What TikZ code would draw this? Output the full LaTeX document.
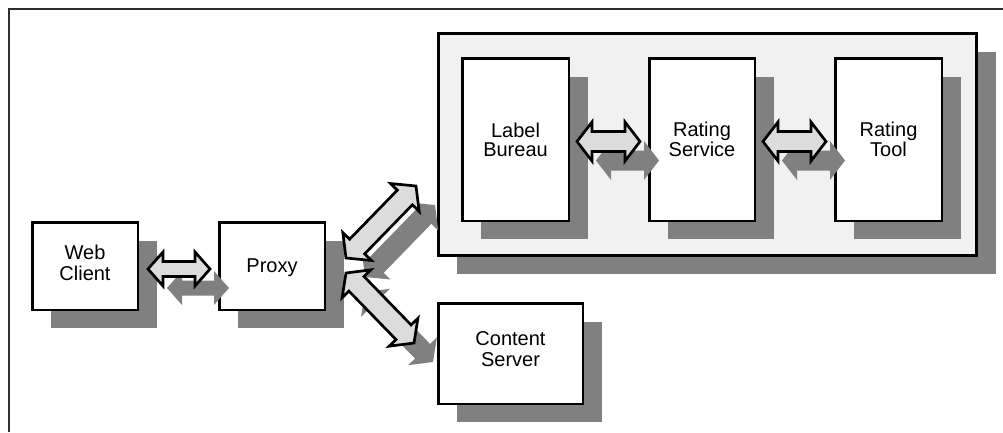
\documentclass[tikz,border=0pt]{standalone}
\usepackage{fontspec}
\setmainfont{Liberation Sans}
\usetikzlibrary{calc,shadows}

\definecolor{shadowgray}{HTML}{808080}
\definecolor{panelfill}{HTML}{F1F1F1}
\definecolor{arrowfill}{HTML}{DCDCDC}
\definecolor{framegray}{HTML}{303030}

% geometry of the outlined double arrows: head length, head half width, shaft half width
\def\arrHeadLen{15pt}
\def\arrHeadHalf{20pt}
\def\arrShaftHalf{10pt}

\begin{document}
\begin{tikzpicture}[x=1pt,y=-1pt,
  boxshadow/.style={drop shadow={shadow xshift=19pt,shadow yshift=-18.5pt,fill=shadowgray,opacity=1}},
  unit/.style={draw=black,line width=2.5pt,fill=white,boxshadow,inner sep=0pt,
    align=center,text depth=0pt},
  outerlabel/.style={font=\fontsize{20}{21.5}\selectfont},
  innerlabel/.style={font=\fontsize{20}{18.5}\selectfont},
  panel/.style={draw=black,line width=2.6pt,fill=panelfill,boxshadow,inner sep=0pt},
  frameline/.style={draw=framegray,line width=1.3pt},
  arrow geometry/.code n args={3}{\def\arrHeadLen{#1}\def\arrHeadHalf{#2}\def\arrShaftHalf{#3}},
  blockarrow/.style={draw=black,line width=2.7pt,line join=miter,miter limit=10,fill=arrowfill,
    drop shadow={shadow xshift=19pt,shadow yshift=-19pt,fill=shadowgray,opacity=1},
    to path={
      -- ($(\tikztostart)!\arrHeadLen!(\tikztotarget)!\arrHeadHalf!90:(\tikztotarget)$)
      -- ($(\tikztostart)!\arrHeadLen!(\tikztotarget)!\arrShaftHalf!90:(\tikztotarget)$)
      -- ($(\tikztotarget)!\arrHeadLen!(\tikztostart)!\arrShaftHalf!90:(\tikztotarget)$)
      -- ($(\tikztotarget)!\arrHeadLen!(\tikztostart)!\arrHeadHalf!90:(\tikztotarget)$)
      -- (\tikztotarget)
      -- ($(\tikztotarget)!\arrHeadLen!(\tikztostart)!\arrHeadHalf!-90:(\tikztotarget)$)
      -- ($(\tikztotarget)!\arrHeadLen!(\tikztostart)!\arrShaftHalf!-90:(\tikztotarget)$)
      -- ($(\tikztostart)!\arrHeadLen!(\tikztotarget)!\arrShaftHalf!-90:(\tikztotarget)$)
      -- ($(\tikztostart)!\arrHeadLen!(\tikztotarget)!\arrHeadHalf!-90:(\tikztotarget)$)
      -- cycle}}
]
\useasboundingbox (0,0) rectangle (1003,432);

% page frame (open towards right and bottom)
\draw[frameline] (9,432) -- (9,9) -- (1003,9);

% client side
\node[unit,outerlabel,minimum width=105.5pt,minimum height=87.5pt,text depth=7pt]
  (wc) at (85,266) {Web\\Client};
\node[unit,outerlabel,minimum width=105.5pt,minimum height=87.5pt]
  (px) at (272,266) {Proxy};

% rating infrastructure
\node[panel,minimum width=538.4pt,minimum height=222.4pt] (tier) at (707.5,144.5) {};
\node[unit,innerlabel,minimum width=106.5pt,minimum height=162.5pt]
  (lb) at (515.5,139.5) {Label\\Bureau};
\node[unit,innerlabel,minimum width=105.5pt,minimum height=162.5pt]
  (rs) at (702,139.5) {Rating\\Service};
\node[unit,innerlabel,minimum width=106.5pt,minimum height=162.5pt]
  (rt) at (888.5,139.5) {Rating\\Tool};

% content server
\node[unit,outerlabel,minimum width=144.5pt,minimum height=100.5pt,text depth=9pt]
  (cs) at (510.5,353.5) {Content\\Server};

% connections
\draw[blockarrow,arrow geometry={15pt}{17pt}{7.5pt}]
  ([shift={(9,3)}]wc.east) to ([shift={(-8,3)}]px.west);
\draw[blockarrow,arrow geometry={15pt}{19.5pt}{10pt}]
  ([shift={(7,2)}]lb.east) to ([shift={(-8,2)}]rs.west);
\draw[blockarrow,arrow geometry={15pt}{19.5pt}{10pt}]
  ([shift={(7,2)}]rs.east) to ([shift={(-8,2)}]rt.west);
\draw[blockarrow,arrow geometry={16pt}{20pt}{10.5pt}]
  ([shift={(20,-8)}]px.east) to ([shift={(-21,41.5)}]tier.west);
\draw[blockarrow,arrow geometry={15pt}{20pt}{10.5pt}]
  ([shift={(20,7)}]px.east) to ([shift={(-23,-10.5)}]cs.west);
\end{tikzpicture}
\end{document}
